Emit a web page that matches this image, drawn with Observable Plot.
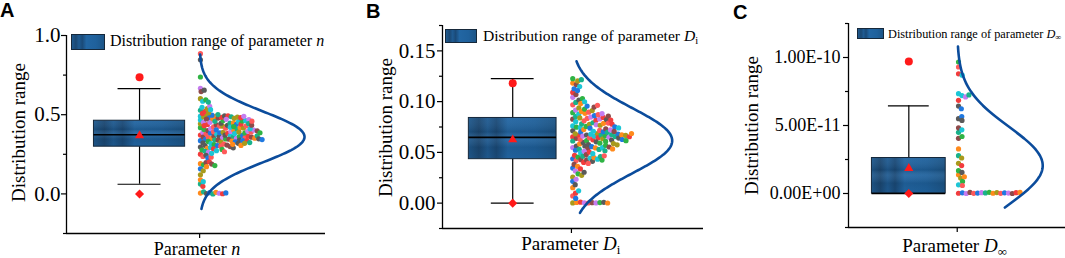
<!DOCTYPE html>
<html><head><meta charset="utf-8">
<script src="https://cdn.jsdelivr.net/npm/d3@7"></script>
<script src="https://cdn.jsdelivr.net/npm/@observablehq/plot@0.6"></script>
<style>
html,body{margin:0;padding:0;background:#fff;overflow:hidden}
#root{position:relative;width:1065px;height:258px;overflow:hidden;font-family:"Liberation Serif","Times New Roman",serif;color:#000}
.lbl{position:absolute;white-space:nowrap;line-height:1;font-family:"Liberation Serif","Times New Roman",serif}
.panel{position:absolute;top:0}
.panel svg text{font-family:"Liberation Serif","Times New Roman",serif}
.letter{position:absolute;font-family:"Liberation Sans",Arial,sans-serif;font-weight:bold;font-size:20px;line-height:1}
.sw{position:absolute;border:1px solid #16283a;box-sizing:border-box;background:linear-gradient(90deg,#1f5a8f 0%,#1b4873 12%,#1f5b92 22%,#1a4a78 32%,#2266a3 45%,#1f619c 75%,#1c5587 100%)}
.sub{font-size:0.68em;position:relative;top:0.3em;font-style:normal}
.yl{position:absolute;width:240px;text-align:center;line-height:1;transform:rotate(-90deg);white-space:nowrap;font-family:"Liberation Serif","Times New Roman",serif}
</style></head><body>
<svg width="0" height="0" style="position:absolute"><defs>
<linearGradient id="boxFill" x1="0" y1="0" x2="1" y2="0">
<stop offset="0" stop-color="#1f5a8f"/><stop offset="0.12" stop-color="#1b4873"/><stop offset="0.22" stop-color="#1f5b92"/>
<stop offset="0.32" stop-color="#1a4a78"/><stop offset="0.45" stop-color="#2266a3"/><stop offset="0.75" stop-color="#1f619c"/>
<stop offset="1" stop-color="#1c5587"/></linearGradient>
<linearGradient id="boxShade" x1="0" y1="0" x2="0" y2="1">
<stop offset="0" stop-color="#ffffff" stop-opacity="0.04"/><stop offset="0.35" stop-color="#000000" stop-opacity="0.12"/>
<stop offset="0.5" stop-color="#ffffff" stop-opacity="0.06"/><stop offset="0.72" stop-color="#000000" stop-opacity="0.1"/>
<stop offset="1" stop-color="#000000" stop-opacity="0.04"/></linearGradient>
</defs></svg>
<div id="root"></div>
<script>
// ---------- data ----------
const panelLetters = ["A", "B", "C"];
const nValues = [
0.372,0.418,0.336,0.491,0.005,0.387,0.296,0.443,0.359,0.528,
0.381,0.251,0.407,0.344,0.467,0.191,0.452,0.322,0.486,0.399,
0.013,0.356,0.431,0.277,0.384,0.547,0.349,0.412,0.305,0.495,
0.365,0.063,0.392,0.438,0.331,0.482,0.376,0.288,0.452,0.361,
0.601,0.473,0.342,0.423,0.508,0.183,0.386,0.318,0.474,0.353,
0.002,0.389,0.436,0.269,0.427,0.521,0.347,0.405,0.293,0.489,
0.667,0.371,0.427,0.339,0.458,0.236,0.383,0.311,0.497,0.368,
0.089,0.394,0.446,0.327,0.479,0.357,0.415,0.284,0.463,0.305,
0.585,0.402,0.351,0.433,0.513,0.198,0.447,0.315,0.484,0.362,
0.008,0.381,0.448,0.262,0.492,0.538,0.345,0.409,0.301,0.493,
0.738,0.369,0.421,0.334,0.471,0.244,0.391,0.308,0.487,0.355,
0.048,0.385,0.439,0.273,0.419,0.553,0.340,0.416,0.299,0.501,
0.885,0.364,0.425,0.329,0.456,0.172,0.395,0.319,0.477,0.358,
0.000,0.390,0.441,0.281,0.337,0.532,0.352,0.403,0.291,0.485,
0.646,0.367,0.429,0.337,0.461,0.226,0.462,0.313,0.469,0.348,
0.121,0.398,0.444,0.266,0.481,0.594,0.343,0.411,0.306,0.490,
0.847,0.319,0.434,0.324,0.459,0.203,0.386,0.158,0.077,0.010,
0.004,0.655,0.146,0.188,0.580,0.232,0.001,0.179,0.006,0.256
];
const diValues = [
0.0652,0.0891,0.0437,0.0761,0.1183,0.0548,0.0562,0.0002,0.0827,0.0612,
0.0968,0.0471,0.0748,0.0345,0.0802,0.0583,0.1042,0.0712,0.0256,0.0638,
0.0853,0.0419,0.0667,0.1226,0.0521,0.0745,0.0006,0.0917,0.0598,0.0683,
0.0381,0.0781,0.0629,0.1091,0.0454,0.0701,0.0876,0.0152,0.0661,0.0563,
0.0938,0.0428,0.0531,0.0811,0.0009,0.0617,0.1127,0.0495,0.0725,0.0317,
0.0671,0.0839,0.0539,0.0992,0.0643,0.0401,0.0756,0.0215,0.0679,0.0903,
0.0003,0.0577,0.0776,0.1168,0.0462,0.0834,0.0624,0.0289,0.0738,0.0659,
0.0885,0.0511,0.1015,0.0685,0.0426,0.0792,0.0071,0.0645,0.0927,0.0556,
0.0708,0.0363,0.0848,0.0604,0.1204,0.0478,0.0669,0.0001,0.0817,0.0591,
0.0956,0.0443,0.0544,0.0772,0.0182,0.0634,0.1069,0.0529,0.0716,0.0337,
0.0663,0.0862,0.0546,0.0981,0.0649,0.0412,0.0767,0.0004,0.0676,0.0896,
0.0098,0.0569,0.0703,0.1148,0.0449,0.0829,0.0621,0.0274,0.0733,0.0656,
0.0871,0.0503,0.1031,0.0681,0.0433,0.0786,0.0002,0.0641,0.0912,0.0553,
0.0698,0.0391,0.0844,0.0608,0.1109,0.0487,0.0672,0.0235,0.0823,0.0587,
0.0946,0.0459,0.0789,0.0778,0.0005,0.0627,0.0999,0.0534,0.0721,0.0304,
0.0667,0.0857,0.0516,0.0964,0.0654,0.0424,0.0751,0.0121,0.0686,0.0881,
0.0008,0.0574,0.0706,0.1216,0.0466,0.0819,0.0615,0.0046,0.0741,0.0001
];
const dInfValues = [
0.02e-11,9.67e-11,0.05e-11,7.34e-11,1.38e-11,0.00,5.5e-11,2.22e-11,0.08e-11,4.5e-11,
0.01e-11,8.8e-11,1.68e-11,0.03e-11,7.2e-11,3.28e-11,0.06e-11,6.43e-11,1.14e-11,
4.06e-11,0.04e-11,9.3e-11,2.05e-11,0.09e-11,5.66e-11,0.64e-11,0.02e-11,7.1e-11,1.55e-11,
0.07e-11,4.83e-11,2.78e-11,0.01e-11,6.85e-11,0.89e-11,0.05e-11,8.7e-11,1.23e-11,0.03e-11,
5.37e-11,2.61e-11,0.0,7.25e-11,0.59e-11,0.06e-11,4.19e-11,6.23e-11,4.68e-11,0.08e-11
];
// box statistics per panel [A, B, C]
const boxQ1 = [0.298, 0.0433, 0];
const boxMedian = [0.373, 0.0648, 0];
const boxQ3 = [0.462, 0.0839, 2.61e-11];
const whiskerLow = [0.061, 0, 0];
const whiskerHigh = [0.665, 0.1227, 6.45e-11];
const meanValue = [0.368, 0.0625, 1.85e-11];
const lowMarker = [0, 0, 0];
const highMarker = [0.736, 0.118, 9.7e-11];
// fitted normal curve per panel
const fitMean = [0.36, 0.0615, 2.05e-11];
const fitSD = [0.16, 0.032, 2.85e-11];
const fitLow = [-0.095, -0.0096, -1.03e-11];
const fitHigh = [0.88, 0.1397, 1.08e-10];
// axes
const yDomains = [[-0.25, 1.0], [-0.025, 0.175], [-2.5e-11, 1.25e-10]];
const majorTicks = [[0, 0.5, 1.0], [0, 0.05, 0.10, 0.15], [0, 5e-11, 1e-10]];
const majorTickLabels = [["0.0", "0.5", "1.0"], ["0.00", "0.05", "0.10", "0.15"], ["0.00E+00", "5.00E-11", "1.00E-10"]];
const minorTicks = [[-0.25, 0.25, 0.75], [-0.025, 0.025, 0.075, 0.125, 0.175], [-2.5e-11, 2.5e-11, 7.5e-11, 1.25e-10]];
const palette = ["#f23c3c", "#2fb344", "#1f78e0", "#1cc6d6", "#ff8a1c", "#c57cf0", "#5a5a5a", "#a89a1c", "#8e4a4a", "#19b28a", "#ff5a5a"];

// ---------- layout (pixels / fractions of frame) ----------
const layout = [
  {left: 0, width: 355, mL: 66, mR: 30, mT: 35, mB: 25, catX: 0.514, boxX: 0.282, boxHalf: 0.176, capHalf: 0.083, amp: 0.405, tickFont: 21, tickPad: 1, dotPad: -1.8},
  {left: 355, width: 355, mL: 87, mR: 7, mT: 25, mB: 30, catX: 0.494, boxX: 0.269, boxHalf: 0.168, capHalf: 0.082, amp: 0.386, tickFont: 21, tickPad: 2, dotPad: -1.3},
  {left: 710, width: 355, mL: 138, mR: 0, mT: 23, mB: 31, catX: 0.501, boxX: 0.278, boxHalf: 0.170, capHalf: 0.094, amp: 0.394, tickFont: 18, tickPad: 3, dotPad: -1.3}
];
const pointSets = [nValues, diValues, dInfValues];
const root = document.getElementById("root");
const RED = "#ff1a1a";
const SERIF = '"Liberation Serif", "Times New Roman", serif';

function makePanel(k) {
  const L = layout[k];
  const points = pointSets[k].map((v, i) => ({v, c: palette[i % palette.length]}));
  const s = {q1: boxQ1[k], med: boxMedian[k], q3: boxQ3[k], wl: whiskerLow[k], wh: whiskerHigh[k],
             mean: meanValue[k], lo: lowMarker[k], hi: highMarker[k]};
  const curve = d3.range(0, 161).map(j => {
    const y = fitLow[k] + (fitHigh[k] - fitLow[k]) * j / 160;
    const z = (y - fitMean[k]) / fitSD[k];
    return {y, x: L.catX + L.amp * Math.exp(-0.5 * z * z)};
  });
  const frameW = L.width - L.mL - L.mR;
  const bx = () => L.boxX, bx1 = () => L.boxX - L.boxHalf, bx2 = () => L.boxX + L.boxHalf;
  const cx1 = () => L.boxX - L.capHalf, cx2 = () => L.boxX + L.capHalf;
  const svg = Plot.plot({
    width: L.width, height: 258,
    marginLeft: L.mL, marginRight: L.mR, marginTop: L.mT, marginBottom: L.mB,
    x: {domain: [0, 1]},
    y: {domain: yDomains[k]},
    color: {type: "identity"},
    style: `background: transparent; font-family: ${SERIF}; font-size: ${L.tickFont}px; color: #000; overflow: visible;`,
    marks: [
      Plot.ruleY([yDomains[k][0]], {stroke: "#000", strokeWidth: 1.3}),
      Plot.ruleX([0], {stroke: "#000", strokeWidth: 1.3}),
      Plot.axisY({ticks: minorTicks[k], tickSize: 3, tickFormat: () => "", label: null, strokeWidth: 1.2}),
      Plot.axisY({ticks: majorTicks[k], tickSize: 5, tickPadding: L.tickPad, label: null, strokeWidth: 1.2,
                  fontSize: L.tickFont, fontFamily: SERIF,
                  tickFormat: d => majorTickLabels[k][majorTicks[k].findIndex(t => Math.abs(t - d) < 1e-15)]}),
      Plot.axisX({ticks: [L.catX], tickSize: 5, tickFormat: () => "", label: null, strokeWidth: 1.2}),
      Plot.ruleX([s], {x: bx, y1: "q3", y2: "wh", stroke: "#000", strokeWidth: 1.2}),
      Plot.ruleX([s], {x: bx, y1: "wl", y2: "q1", stroke: "#000", strokeWidth: 1.2}),
      Plot.rect([s], {x1: bx1, x2: bx2, y1: "q1", y2: "q3", fill: "url(#boxFill)"}),
      Plot.rect([s], {x1: bx1, x2: bx2, y1: "q1", y2: "q3", fill: "url(#boxShade)", stroke: "#15283b", strokeWidth: 1}),
      Plot.ruleY([s], {y: "med", x1: bx1, x2: bx2, stroke: "#000", strokeWidth: 1.6}),
      Plot.ruleY([s], {y: "wh", x1: cx1, x2: cx2, stroke: "#000", strokeWidth: 1.2}),
      Plot.ruleY([s], {y: "wl", x1: cx1, x2: cx2, stroke: "#000", strokeWidth: 1.2}),
      Plot.dot([s], {x: bx, y: "mean", symbol: "triangle", r: 3.4, fill: RED}),
      Plot.dot([s], {x: bx, y: "lo", symbol: "square", rotate: 45, r: 3.6, fill: RED}),
      Plot.dot([s], {x: bx, y: "hi", symbol: "circle", r: 4, fill: RED}),
      Plot.dot(points, Plot.dodgeX({anchor: "left", padding: L.dotPad}, {y: "v", r: 2.6, fill: "c", dx: L.catX * frameW})),
      Plot.line(curve, {x: "x", y: "y", stroke: "#0b4c9c", strokeWidth: 2.6})
    ]
  });
  const div = document.createElement("div");
  div.className = "panel";
  div.style.left = L.left + "px";
  div.appendChild(svg);
  root.appendChild(div);
}
[0, 1, 2].forEach(makePanel);

function addHTML(cls, html, style) {
  const d = document.createElement("div");
  d.className = cls;
  d.innerHTML = html;
  Object.assign(d.style, style);
  root.appendChild(d);
  return d;
}
// panel letters
addHTML("letter", panelLetters[0], {left: "0px", top: "0px"});
addHTML("letter", panelLetters[1], {left: "366px", top: "1px"});
addHTML("letter", panelLetters[2], {left: "733px", top: "2px"});
// legends
addHTML("sw", "", {left: "71px", top: "34px", width: "34px", height: "16px"});
addHTML("lbl", "Distribution range of parameter <i>n</i>", {left: "110px", top: "33.3px", fontSize: "16px"});
addHTML("sw", "", {left: "445px", top: "29px", width: "32px", height: "14px"});
addHTML("lbl", "Distribution range of parameter <i>D</i><span class='sub'>i</span>", {left: "483px", top: "28.3px", fontSize: "15.6px"});
addHTML("sw", "", {left: "857px", top: "28px", width: "27px", height: "11px"});
addHTML("lbl", "Distribution range of parameter <i>D</i><span class='sub'>∞</span>", {left: "888px", top: "27.5px", fontSize: "12.3px"});
// y labels
[[20, 132.5], [386.7, 127], [753.3, 125]].forEach(([cx, cy]) => {
  addHTML("yl", "Distribution range", {left: (cx - 2 - 120) + "px", top: (cy - 9.5) + "px", fontSize: "19px", height: "19px"});
});
// x labels
function xLabel(html, cx, top, fs) {
  const d = addHTML("lbl", html, {top: top + "px", fontSize: fs + "px"});
  d.style.left = (cx - d.offsetWidth / 2) + "px";
}
xLabel("Parameter <i>n</i>", 196.7, 240.4, 18);
xLabel("Parameter <i>D</i><span class='sub'>i</span>", 570.8, 233.9, 19);
xLabel("Parameter <i>D</i><span class='sub'>∞</span>", 954.7, 236.1, 19);
</script>
</body></html>
